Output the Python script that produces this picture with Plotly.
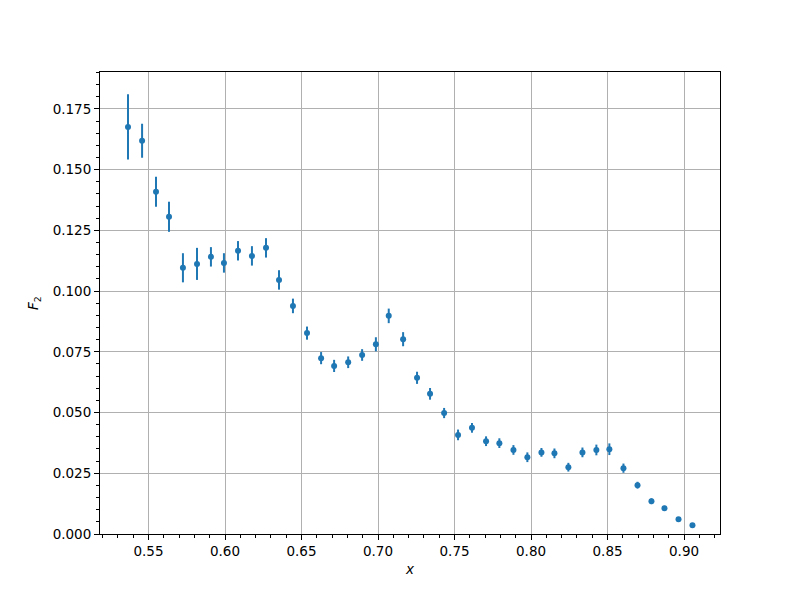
import plotly.graph_objects as go

x_vals = [0.5366, 0.5458, 0.5549, 0.5634, 0.5725, 0.5817, 0.5908, 0.5993, 0.6085, 0.6176,
          0.6268, 0.6353, 0.6444, 0.6536, 0.6628, 0.6713, 0.6805, 0.6896, 0.6986, 0.7070,
          0.7164, 0.7255, 0.7340, 0.7432, 0.7523, 0.7614, 0.7706, 0.7793, 0.7885, 0.7976,
          0.8068, 0.8153, 0.8244, 0.8336, 0.8427, 0.8512, 0.8604, 0.8696, 0.8787, 0.8872,
          0.8964, 0.9055]
f2_vals = [0.1676, 0.1619, 0.1409, 0.1306, 0.1096, 0.1112, 0.1141, 0.1116, 0.1166, 0.1145,
           0.1178, 0.1046, 0.0939, 0.0827, 0.0724, 0.0692, 0.0707, 0.0737, 0.0781, 0.0898,
           0.0802, 0.0643, 0.0577, 0.0498, 0.0408, 0.0437, 0.0382, 0.0374, 0.0346, 0.0316,
           0.0336, 0.0332, 0.0275, 0.0336, 0.0346, 0.0349, 0.0271, 0.0201, 0.0135, 0.0106,
           0.0061, 0.0036]
f2_err = [0.0134, 0.0070, 0.0062, 0.0062, 0.0060, 0.0066, 0.0040, 0.0040, 0.0040, 0.0040,
          0.0040, 0.0040, 0.0030, 0.0027, 0.0025, 0.0025, 0.0024, 0.0024, 0.0029, 0.0030,
          0.0029, 0.0025, 0.0024, 0.0021, 0.0022, 0.0020, 0.0020, 0.0020, 0.0020, 0.0020,
          0.0018, 0.0020, 0.0018, 0.0020, 0.0022, 0.0024, 0.0019, 0.0014, 0.0012, 0.0010,
          0.0008, 0.0007]

color = "#1f77b4"
fig = go.Figure()
fig.add_trace(go.Scatter(
    x=x_vals, y=f2_vals, mode="markers",
    marker=dict(color=color, size=6),
    error_y=dict(type="data", array=f2_err, visible=True, color=color, thickness=2, width=0),
    showlegend=False,
))

axis_common = dict(
    showline=True, linecolor="black", linewidth=1, mirror=True,
    ticks="outside", ticklen=5, tickwidth=1, tickcolor="black",
    showgrid=True, gridcolor="#b0b0b0", gridwidth=1, zeroline=False,
    tickfont=dict(family="DejaVu Sans", size=13.5, color="black"),
)

fig.update_xaxes(
    range=[0.5183, 0.9235], dtick=0.05, tick0=0.5, tickformat=".2f",
    minor=dict(dtick=0.01, tick0=0.5, ticks="outside", ticklen=3, tickcolor="black", showgrid=False),
    title=dict(text="<i>x</i>", font=dict(family="DejaVu Sans", size=13.5, color="black"), standoff=6),
    **axis_common,
)
fig.update_yaxes(
    range=[0, 0.1902], dtick=0.025, tick0=0, tickformat=".3f",
    minor=dict(dtick=0.005, tick0=0, ticks="outside", ticklen=3, tickcolor="black", showgrid=False),
    title=dict(text="<i>F</i><sub>2</sub>", font=dict(family="DejaVu Sans", size=13.5, color="black"), standoff=10),
    **axis_common,
)

fig.update_layout(
    width=800, height=600,
    margin=dict(l=92, r=88, t=64, b=74),
    plot_bgcolor="white", paper_bgcolor="white",
    font=dict(family="DejaVu Sans", color="black"),
)

fig.write_html("out.html")
